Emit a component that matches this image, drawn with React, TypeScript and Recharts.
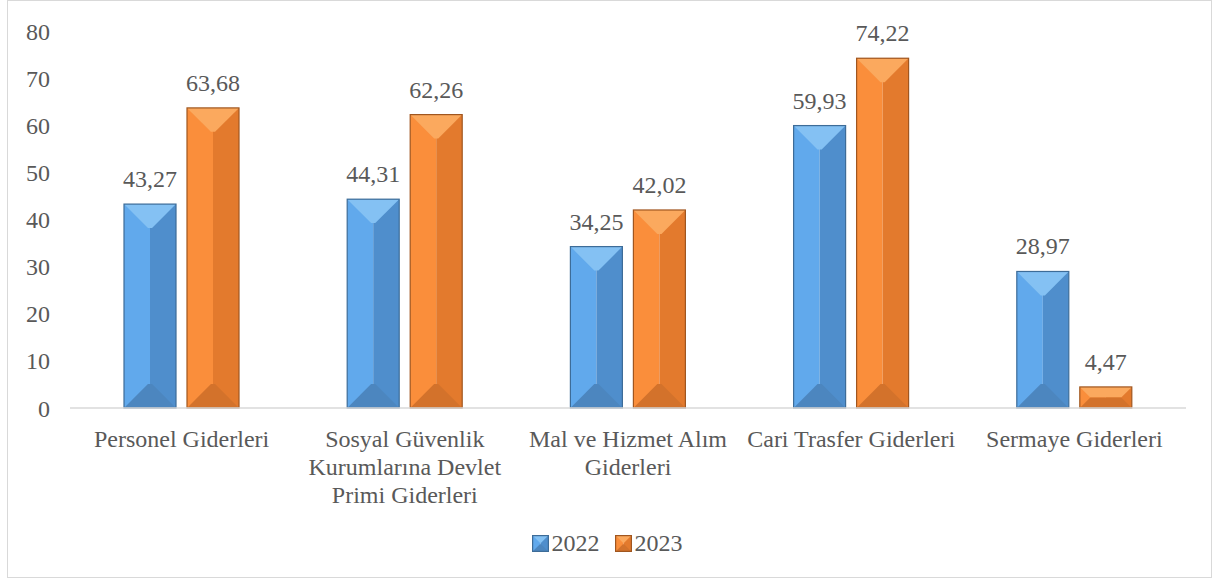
import React from 'react';
import { BarChart, Bar, XAxis, YAxis, LabelList, Legend } from 'recharts';

const categories = [
  'Personel Giderleri',
  'Sosyal Güvenlik Kurumlarına Devlet Primi Giderleri',
  'Mal ve Hizmet Alım Giderleri',
  'Cari Trasfer Giderleri',
  'Sermaye Giderleri',
];
const values2022 = [43.27, 44.31, 34.25, 59.93, 28.97];
const values2023 = [63.68, 62.26, 42.02, 74.22, 4.47];
const yTicks = [0, 10, 20, 30, 40, 50, 60, 70, 80];
const seriesNames = ['2022', '2023'];

const data = categories.map((c, i) => ({ name: c, v2022: values2022[i], v2023: values2023[i] }));

const palettes: Record<string, any> = {
  blue: { left: '#61A9EC', right: '#4F8ECC', top: '#84C1F3', bottom: '#4C86BF', stroke: '#3D6C98' },
  orange: { left: '#FA8E3B', right: '#E37A2D', top: '#FBA95E', bottom: '#D3722B', stroke: '#A0561F' },
};

const TEXT = '#595959';
const FONT = '"Liberation Serif", "Times New Roman", serif';

let ctx: CanvasRenderingContext2D | null = null;
function measure(s: string): number {
  if (!ctx && typeof document !== 'undefined') {
    ctx = document.createElement('canvas').getContext('2d');
  }
  if (!ctx) return s.length * 11;
  ctx.font = `24px ${FONT}`;
  return ctx.measureText(s).width;
}

function wrap(text: string, maxW: number): string[] {
  const words = text.split(' ');
  const lines: string[] = [];
  let cur = '';
  for (const w of words) {
    const t = cur ? cur + ' ' + w : w;
    if (cur && measure(t) > maxW) {
      lines.push(cur);
      cur = w;
    } else {
      cur = t;
    }
  }
  if (cur) lines.push(cur);
  return lines;
}

function BevelRect({ x, y, w, h, p }: any) {
  if (!(h > 0) || !(w > 0)) return null;
  const d = Math.min(w * 0.46, h / 2);
  return (
    <g>
      <rect x={x} y={y} width={w / 2} height={h} fill={p.left} />
      <rect x={x + w / 2} y={y} width={w / 2} height={h} fill={p.right} />
      <polygon points={`${x},${y} ${x + w},${y} ${x + w - d},${y + d} ${x + d},${y + d}`} fill={p.top} />
      <polygon points={`${x},${y + h} ${x + w},${y + h} ${x + w - d},${y + h - d} ${x + d},${y + h - d}`} fill={p.bottom} />
      <rect x={x} y={y} width={w} height={h} fill="none" stroke={p.stroke} strokeWidth={1.2} />
    </g>
  );
}

const makeShape = (key: string) => (props: any) => {
  const { x, y, width, height } = props;
  return <BevelRect x={x} y={y} w={width} h={height} p={palettes[key]} />;
};

const CategoryTick = (props: any) => {
  const { x, y, payload } = props;
  const lines = wrap(String(payload.value), 222);
  return (
    <text
      x={x}
      y={y + 37}
      textAnchor="middle"
      style={{ fontFamily: FONT, fontSize: 24, fill: TEXT }}
    >
      {lines.map((l, i) => (
        <tspan key={i} x={x} dy={i === 0 ? 0 : 28}>
          {l}
        </tspan>
      ))}
    </text>
  );
};

const LegendContent = () => {
  const keys = ['blue', 'orange'];
  return (
    <div style={{ display: 'flex', justifyContent: 'center', alignItems: 'center', height: 30 }}>
      {seriesNames.map((n, i) => (
        <div key={n} style={{ display: 'flex', alignItems: 'center', marginLeft: i ? 15 : 0 }}>
          <svg width={17} height={17} style={{ marginRight: 3 }}>
            <BevelRect x={0.6} y={0.6} w={15.8} h={15.8} p={palettes[keys[i]]} />
          </svg>
          <span style={{ fontFamily: FONT, fontSize: 24, color: TEXT, lineHeight: '30px' }}>{n}</span>
        </div>
      ))}
    </div>
  );
};

export default function App() {
  return (
    <div style={{ position: 'fixed', left: 0, top: 0, width: 1214, height: 582, background: '#fff' }}>
      <div
        style={{
          position: 'absolute',
          left: 7,
          top: 0,
          width: 1205,
          height: 578,
          border: '1.5px solid #D9D9D9',
          boxSizing: 'border-box',
        }}
      />
      <div style={{ position: 'absolute', left: 0, top: 0 }}>
        <BarChart
          width={1214}
          height={582}
          data={data}
          margin={{ top: 31, right: 28, bottom: 74, left: 10 }}
          barSize={52}
          barGap={11}
        >
          <XAxis
            dataKey="name"
            axisLine={{ stroke: '#D9D9D9', strokeWidth: 1.5 }}
            tickLine={false}
            tickSize={0}
            height={100}
            interval={0}
            tick={<CategoryTick />}
          />
          <YAxis
            domain={[0, 80]}
            ticks={yTicks}
            axisLine={false}
            tickLine={false}
            tickSize={0}
            tickMargin={20}
            width={60}
            tick={{ fontFamily: FONT, fontSize: 24, fill: TEXT }}
          />
          <Legend
            layout="horizontal"
            verticalAlign="middle"
            align="center"
            wrapperStyle={{ top: 528, left: 0, width: 1214 }}
            content={<LegendContent />}
          />
          <Bar dataKey="v2022" name={seriesNames[0]} isAnimationActive={false} shape={makeShape('blue')}>
            <LabelList
              dataKey="v2022"
              position="top"
              offset={17}
              formatter={(v: any) => Number(v).toFixed(2).replace('.', ',')}
              style={{ fontFamily: FONT, fontSize: 24, fill: TEXT }}
            />
          </Bar>
          <Bar dataKey="v2023" name={seriesNames[1]} isAnimationActive={false} shape={makeShape('orange')}>
            <LabelList
              dataKey="v2023"
              position="top"
              offset={17}
              formatter={(v: any) => Number(v).toFixed(2).replace('.', ',')}
              style={{ fontFamily: FONT, fontSize: 24, fill: TEXT }}
            />
          </Bar>
        </BarChart>
      </div>
    </div>
  );
}
